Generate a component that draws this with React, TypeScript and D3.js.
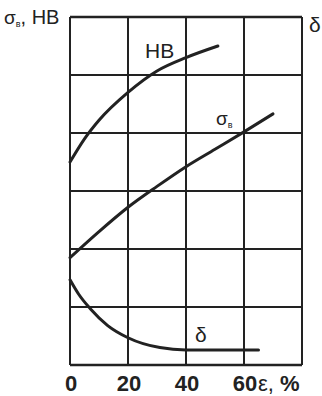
import React from "react";
import * as d3 from "d3";

// Deformation ε, % along the x axis; curves in grid units (one unit per row)
const xTicks = [0, 20, 40, 60];
const hbStrain = [0, 5, 10, 20, 30, 40, 51];
const hbValues = [3.5, 3.9, 4.22, 4.7, 5.07, 5.3, 5.5];
const sigmaStrain = [0, 10, 20, 30, 40, 50, 60, 70];
const sigmaValues = [1.85, 2.3, 2.72, 3.08, 3.42, 3.72, 4.02, 4.33];
const deltaStrain = [0, 3, 7, 13, 20, 31, 40, 55, 65];
const deltaValues = [1.47, 1.22, 0.97, 0.68, 0.47, 0.3, 0.26, 0.26, 0.26];

const W = 322;
const H = 396;
const ink = "#222";
const font = "'Liberation Sans', Arial, sans-serif";

export default function App() {
  const x = d3.scaleLinear().domain([0, 80]).range([70, 302]);
  const y = d3.scaleLinear().domain([0, 6]).range([365, 17]);
  const line = d3
    .line<[number, number]>()
    .x((d) => x(d[0]))
    .y((d) => y(d[1]))
    .curve(d3.curveMonotoneX);

  const zip = (a: number[], b: number[]) => a.map((v, i) => [v, b[i]] as [number, number]);

  const vLines = d3.range(0, 81, 20);
  const hLines = d3.range(0, 7, 1);

  return (
    <svg width={W} height={H} style={{ position: "absolute", left: 0, top: 0, background: "#fff" }}>
      <g stroke={ink} strokeWidth={2}>
        {vLines.map((v) => (
          <line key={"v" + v} x1={x(v)} x2={x(v)} y1={y(0)} y2={y(6)} />
        ))}
        {hLines.map((v) => (
          <line key={"h" + v} x1={x(0)} x2={x(80)} y1={y(v)} y2={y(v)} strokeWidth={v === 0 || v === 6 ? 2.5 : 2} />
        ))}
      </g>
      <g fill="none" stroke={ink} strokeWidth={3} strokeLinecap="round">
        <path d={line(zip(hbStrain, hbValues)) || ""} />
        <path d={line(zip(sigmaStrain, sigmaValues)) || ""} />
        <path d={line(zip(deltaStrain, deltaValues)) || ""} />
      </g>
      <g fill={ink} fontFamily={font}>
        {xTicks.map((t) => (
          <text key={t} x={x(t) + 1} y={391} fontSize={22} fontWeight="bold" textAnchor="middle">
            {t}
          </text>
        ))}
        <text x={258} y={391} fontSize={22}>
          ε,<tspan fontWeight="bold"> %</tspan>
        </text>
        <text x={4} y={24} fontSize={19}>
          σ<tspan fontSize={9} dy={3}>в</tspan>
          <tspan dy={-3} fontSize={20}>, HB</tspan>
        </text>
        <text x={309} y={32} fontSize={21}>
          δ
        </text>
        <text x={145} y={58} fontSize={21}>
          HB
        </text>
        <text x={216} y={125} fontSize={19}>
          σ<tspan fontSize={9} dy={3}>в</tspan>
        </text>
        <text x={195} y={342} fontSize={21}>
          δ
        </text>
      </g>
    </svg>
  );
}
